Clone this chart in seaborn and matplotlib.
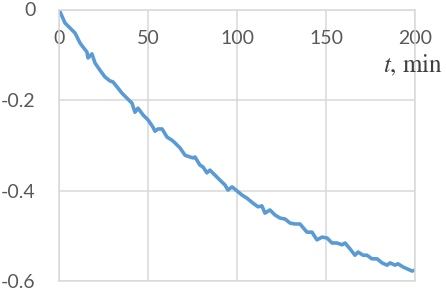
import matplotlib
matplotlib.use('Agg')
import matplotlib.pyplot as plt
import seaborn as sns
import pandas as pd

# tempo (min) e valores
t_min = [0, 3.4, 6.2, 9.0, 11.8, 13.5, 15.7, 16.3, 18.5, 20.2, 23.0, 25.8, 28.7,
         30.3, 32.6, 35.4, 38.2, 41.0, 42.7, 44.4, 47.2, 50.0, 52.8, 53.9, 55.6,
         57.9, 60.7, 63.5, 65.2, 68.0, 70.8, 73.6, 75.3, 76.4, 79.2, 80.9, 83.1,
         84.8, 87.6, 90.4, 93.3, 94.9, 97.2, 100.0, 102.8, 105.6, 109.0, 111.8,
         114.0, 115.7, 118.5, 121.3, 124.2, 127.0, 129.8, 132.6, 135.4, 139.3,
         142.1, 144.9, 147.8, 150.6, 153.4, 156.2, 159.0, 160.7, 163.5, 166.3,
         168.0, 170.8, 173.0, 175.8, 178.7, 181.5, 184.3, 186.0, 188.8, 190.4,
         193.3, 196.1, 198.3, 200]
valores = [0, -0.030, -0.041, -0.052, -0.074, -0.083, -0.094, -0.107, -0.098,
           -0.118, -0.134, -0.149, -0.158, -0.160, -0.171, -0.185, -0.196, -0.207,
           -0.227, -0.218, -0.233, -0.244, -0.260, -0.269, -0.264, -0.264, -0.282,
           -0.289, -0.295, -0.306, -0.322, -0.326, -0.328, -0.326, -0.344, -0.348,
           -0.361, -0.355, -0.366, -0.377, -0.388, -0.399, -0.392, -0.401, -0.410,
           -0.417, -0.428, -0.436, -0.434, -0.450, -0.443, -0.454, -0.461, -0.463,
           -0.472, -0.474, -0.474, -0.492, -0.492, -0.509, -0.503, -0.505, -0.516,
           -0.516, -0.520, -0.516, -0.529, -0.543, -0.536, -0.543, -0.543, -0.551,
           -0.551, -0.560, -0.565, -0.560, -0.565, -0.562, -0.569, -0.574, -0.578,
           -0.576]
xticks = [0, 50, 100, 150, 200]
yticks = [0, -0.2, -0.4, -0.6]
ytick_labels = ['0', '-0.2', '-0.4', '-0.6']

df = pd.DataFrame({'t': t_min, 'v': valores})

sns.set_style('white')
plt.rcParams['font.family'] = ['Lato', 'DejaVu Sans']
plt.rcParams['mathtext.fontset'] = 'stix'

fig = plt.figure(figsize=(4.46, 2.91), dpi=100)
ax = fig.add_axes([59 / 446, 1 - 281 / 291, 356 / 446, 271.5 / 291])

sns.lineplot(data=df, x='t', y='v', ax=ax, color='#5B9BD5', linewidth=2.6)

ax.set_xlim(0, 200)
ax.set_ylim(-0.6, 0)
ax.set_xticks(xticks)
ax.set_yticks(yticks)
ax.set_yticklabels(ytick_labels)
ax.xaxis.tick_top()
ax.tick_params(axis='x', length=0, pad=-27, labelsize=14, labelcolor='#595959')
ax.tick_params(axis='y', length=0, pad=17, labelsize=14, labelcolor='#595959')
ax.set_xlabel('')
ax.set_ylabel('')

ax.grid(True, color='#D9D9D9', linewidth=1.1)
for s in ax.spines.values():
    s.set_color('#D9D9D9')
    s.set_linewidth(1.1)

fig.text(443 / 446, 1 - 66 / 291, r'$t$, min', ha='right', va='center',
         fontsize=18, family='STIXGeneral', color='#404040')

fig.savefig('out.png', dpi=100)
plt.close()
